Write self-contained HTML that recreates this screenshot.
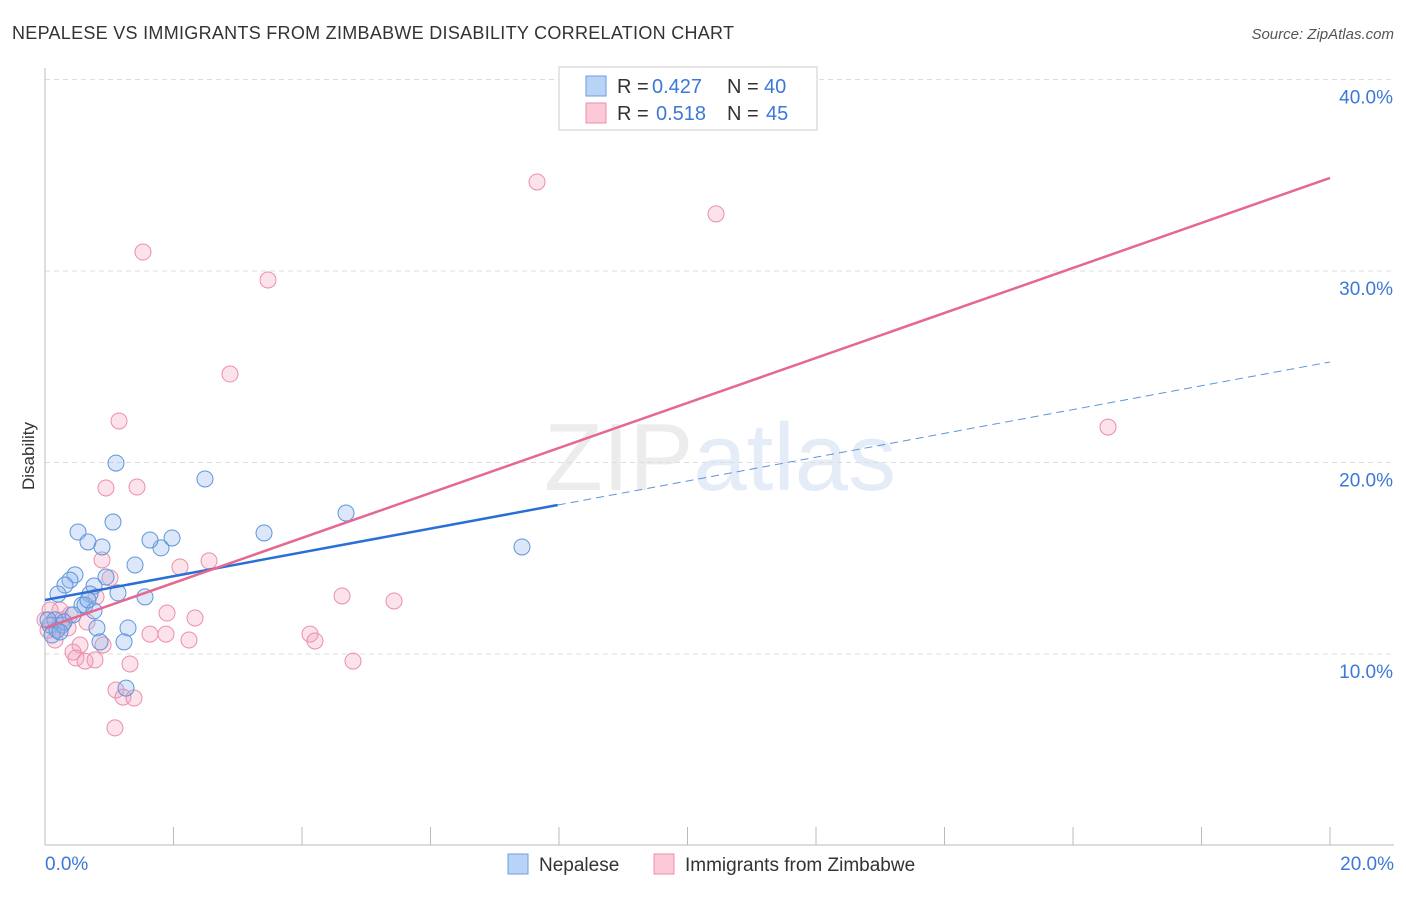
<!DOCTYPE html>
<html><head><meta charset="utf-8"><style>
body{margin:0;background:#fff;font-family:"Liberation Sans",sans-serif}
svg text{font-family:"Liberation Sans",sans-serif}
</style></head><body>
<svg id="chart" width="1406" height="892" xmlns="http://www.w3.org/2000/svg">
<text x="12" y="39" font-size="18" fill="#333" textLength="722">NEPALESE VS IMMIGRANTS FROM ZIMBABWE DISABILITY CORRELATION CHART</text>
<text x="1394" y="39" font-size="15" fill="#555" font-style="italic" text-anchor="end">Source: ZipAtlas.com</text>
<text x="720" y="490" font-size="96" fill="#ececec" text-anchor="middle" font-family="Liberation Serif">ZIP<tspan fill="#e3ecf7" font-family="Liberation Sans">atlas</tspan></text>
<text transform="translate(34,456) rotate(-90)" font-size="17" fill="#333" text-anchor="middle">Disability</text>
<g id="grid"></g><g id="pts"></g><g id="lines"></g>
<g>
<rect x="559" y="67" width="258" height="63" fill="#fff" stroke="#ccc"/>
<rect x="586" y="76" width="20" height="20" fill="#b9d3f7" stroke="#6a9ee0"/>
<rect x="586" y="103" width="20" height="20" fill="#fbc9d7" stroke="#ea8fab"/>
<text x="617" y="93" font-size="20" fill="#333">R =</text>
<text x="652" y="93" font-size="20" fill="#3b78d8">0.427</text>
<text x="727" y="93" font-size="20" fill="#333">N =</text>
<text x="764" y="93" font-size="20" fill="#3b78d8">40</text>
<text x="617" y="120" font-size="20" fill="#333">R =</text>
<text x="656" y="120" font-size="20" fill="#3b78d8">0.518</text>
<text x="727" y="120" font-size="20" fill="#333">N =</text>
<text x="766" y="120" font-size="20" fill="#3b78d8">45</text>
</g>
<g>
<rect x="508" y="854" width="20" height="20" fill="#b9d3f7" stroke="#6a9ee0"/>
<text x="539" y="871" font-size="19" fill="#333">Nepalese</text>
<rect x="654" y="854" width="20" height="20" fill="#fbc9d7" stroke="#ea8fab"/>
<text x="685" y="871" font-size="19" fill="#333">Immigrants from Zimbabwe</text>
</g>
</svg>
<script>
const xTicks=[0,20];
const yTicks=[10,20,30,40];
const blueX=[],blueY=[],pinkX=[],pinkY=[];
const bluePx=[[116,463],[205,479],[78,532],[113,522],[88,542],[102,547],[161,548],[172,538],[264,533],[346,513],[522,547],[135,565],[75,575],[70,580],[65,585],[106,577],[94,586],[58,594],[90,594],[118,593],[145,597],[82,605],[85,605],[94,611],[73,615],[55,620],[62,625],[50,625],[57,630],[97,628],[128,628],[124,642],[100,642],[126,688],[52,635],[48,620],[64,622],[60,632],[88,600],[150,540]];
const pinkPx=[[537,182],[716,214],[143,252],[268,280],[230,374],[119,421],[1108,427],[106,488],[137,487],[102,560],[180,567],[209,561],[110,578],[96,597],[342,596],[394,601],[167,613],[195,618],[87,622],[150,634],[166,634],[310,634],[315,641],[189,640],[68,628],[50,610],[60,610],[55,640],[80,645],[73,652],[76,658],[85,661],[95,660],[130,664],[353,661],[103,645],[116,690],[123,697],[134,698],[115,728],[48,630],[45,620],[62,620],[57,630],[70,615]];
bluePx.forEach(p=>{blueX.push(+((p[0]-45)/1285*20).toFixed(3));blueY.push(+((845.5-p[1])/19.15).toFixed(2));});
pinkPx.forEach(p=>{pinkX.push(+((p[0]-45)/1285*20).toFixed(3));pinkY.push(+((845.5-p[1])/19.15).toFixed(2));});
const blueLine=[12.82,25.25];
const blueSolidEnd=7.98;
const pinkLine=[11.36,34.86];
const X=v=>45+v/20*1285, Y=v=>845.5-v*19.15;
const NS="http://www.w3.org/2000/svg";
function mk(t,a,parent){const e=document.createElementNS(NS,t);for(const k in a)e.setAttribute(k,a[k]);parent.appendChild(e);return e;}
const grid=document.getElementById('grid');
yTicks.forEach(t=>{
 const l=mk('line',{x1:45,x2:1394,y1:Y(t),y2:Y(t),stroke:'#ddd','stroke-dasharray':'5,4'},grid);
 
 
 const tx=mk('text',{x:1393,y:Y(t)+24,'font-size':19,fill:'#3b78d8','text-anchor':'end'},grid);tx.textContent=t.toFixed(1)+'%';
 
 
});
const ax=mk('line',{x1:45,x2:1394,y1:845,y2:845,stroke:'#bbb'},grid);


const ay=mk('line',{x1:45,x2:45,y1:68,y2:845,stroke:'#bbb'},grid);


for(let i=1;i<=10;i++){const xx=45+i*128.5;mk('line',{x1:xx,x2:xx,y1:827,y2:845,stroke:'#bbb'},grid);}
xTicks.forEach((t,i)=>{const tx=mk('text',{x:i?1394:45,y:870,'font-size':19,fill:'#3b78d8','text-anchor':i?'end':'start'},grid);tx.textContent=t.toFixed(1)+'%';
 
 });
const pts=document.getElementById('pts');
pinkX.forEach((x,i)=>{const c=mk('circle',{cx:X(x),cy:Y(pinkY[i]),r:8,fill:'rgba(246,160,185,0.3)',stroke:'#ea8fab','stroke-width':1},pts);
 
 });
blueX.forEach((x,i)=>{const c=mk('circle',{cx:X(x),cy:Y(blueY[i]),r:8,fill:'rgba(140,180,235,0.3)',stroke:'#5d95dc','stroke-width':1},pts);
 
 });
const lines=document.getElementById('lines');
const by=x=>blueLine[0]+(blueLine[1]-blueLine[0])*x/20;
const l1=mk('line',{x1:X(0),y1:Y(by(0)),x2:X(blueSolidEnd),y2:Y(by(blueSolidEnd)),stroke:'#2a6fd6','stroke-width':2.5},lines);


const l2=mk('line',{x1:X(blueSolidEnd),y1:Y(by(blueSolidEnd)),x2:X(20),y2:Y(by(20)),stroke:'#5d95dc','stroke-width':1,'stroke-dasharray':'8,5'},lines);


const l3=mk('line',{x1:X(0),y1:Y(pinkLine[0]),x2:X(20),y2:Y(pinkLine[1]),stroke:'#e4688f','stroke-width':2.5},lines);


</script>
</body></html>
